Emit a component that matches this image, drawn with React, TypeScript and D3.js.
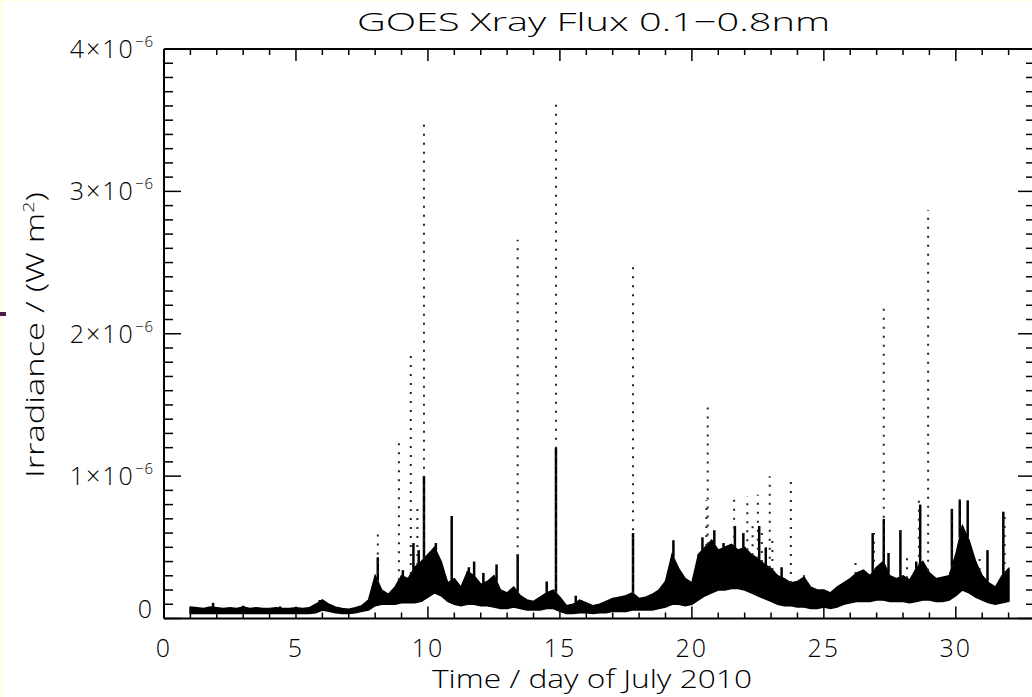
import React from "react";
import * as d3 from "d3";

// GOES 0.1–0.8 nm X-ray irradiance, July 2010.
// The dense 1-minute record is summarised as a low/high envelope sampled every 6 hours,
// plus the short peaks and flare rises that stand above it.
// Values are in units of 1e-7 W m^-2.
const bandStartDay = 1;
const bandStepDay = 0.25;
const bandLow = [
  0.35, 0.35, 0.35, 0.35, 0.35, 0.35, 0.35, 0.35, 0.35, 0.35,
  0.35, 0.35, 0.35, 0.35, 0.35, 0.35, 0.35, 0.35, 0.35, 0.4,
  0.6, 0.5, 0.4, 0.35, 0.35, 0.4, 0.5, 0.6, 0.9, 1.0,
  1.0, 1.0, 1.1, 1.1, 1.1, 1.2, 1.5, 1.8, 1.6, 1.2,
  1.0, 0.9, 1.0, 1.0, 0.9, 0.9, 0.8, 0.7, 0.7, 0.8,
  0.7, 0.6, 0.6, 0.6, 0.7, 0.7, 0.5, 0.35, 0.35, 0.4,
  0.4, 0.35, 0.4, 0.4, 0.5, 0.5, 0.5, 0.6, 0.6, 0.6,
  0.6, 0.7, 0.8, 1.0, 1.0, 0.9, 1.0, 1.3, 1.6, 1.8,
  2.0, 2.0, 2.1, 2.1, 2.0, 1.8, 1.6, 1.4, 1.2, 1.0,
  0.9, 0.9, 0.8, 0.8, 0.7, 0.7, 0.8, 0.7, 0.8, 1.0,
  1.1, 1.2, 1.2, 1.2, 1.3, 1.3, 1.2, 1.2, 1.2, 1.1,
  1.2, 1.3, 1.3, 1.2, 1.2, 1.3, 1.6, 2.0, 1.8, 1.5,
  1.3, 1.1, 1.0, 1.1, 1.2,
];
const bandHigh = [
  0.8, 0.75, 0.7, 0.8, 0.75, 0.7, 0.75, 0.7, 0.8, 0.7,
  0.75, 0.7, 0.7, 0.75, 0.7, 0.7, 0.75, 0.7, 0.75, 1.0,
  1.3, 1.0, 0.8, 0.7, 0.65, 0.75, 0.9, 1.3, 3.0, 2.0,
  1.7, 2.2, 3.0, 2.8, 3.6, 4.0, 4.5, 5.0, 4.0, 2.5,
  2.8, 2.2, 3.3, 3.0, 2.4, 2.6, 3.0, 2.0, 1.8, 2.2,
  1.6, 1.3, 1.2, 1.5, 1.8, 2.0, 1.5, 0.9, 1.0, 1.3,
  1.1, 0.9, 1.0, 1.2, 1.4, 1.5, 1.6, 1.8, 1.4, 1.5,
  1.7, 2.0, 2.6, 4.5, 3.5, 2.8, 2.5, 4.5, 5.0, 5.5,
  4.8, 5.0, 5.2, 4.8, 5.0, 4.5, 4.2, 3.8, 3.5, 3.0,
  2.8, 2.5, 2.6, 2.9, 2.2, 2.0, 2.0, 1.8, 2.2, 2.5,
  2.8, 3.2, 3.4, 3.0, 3.6, 4.0, 3.0, 2.8, 3.0, 2.7,
  3.5, 4.0, 3.2, 2.8, 2.9, 3.0, 4.5, 6.5, 5.5, 4.0,
  3.0, 2.5, 2.2, 3.0, 3.5,
];

// Short, continuously sampled peaks drawn as solid strokes.
const spikeDay = [
  1.86, 3.0, 4.4, 5.9, 8.1, 9.05, 9.45, 9.65, 9.85, 10.3,
  10.9, 11.55, 11.75, 12.1, 12.6, 13.4, 14.5, 14.85, 15.6, 17.77,
  19.3, 20.4, 20.85, 21.2, 21.63, 21.95, 22.55, 22.8, 23.4, 26.85,
  27.27, 27.45, 27.9, 28.5, 28.65, 29.85, 30.15, 30.45, 31.2, 31.8,
];
const spikeTop = [
  1.1, 0.9, 0.85, 1.3, 4.3, 3.4, 5.3, 4.8, 10.0, 5.3,
  7.2, 3.6, 4.0, 3.2, 3.8, 4.5, 2.6, 12.0, 1.6, 6.0,
  5.5, 5.7, 6.2, 5.3, 6.5, 6.0, 6.5, 5.0, 3.6, 6.0,
  7.0, 4.6, 6.2, 4.0, 8.0, 7.7, 8.3, 8.3, 4.8, 7.5,
];

// Impulsive flares: only a few samples fall on the rise, so they show as dotted columns.
const flareDay = [
  8.1, 8.9, 9.35, 9.6, 9.85, 13.4, 14.85, 17.77, 20.55, 20.6,
  21.6, 22.1, 22.3, 22.5, 22.65, 22.95, 23.05, 23.75, 24.25, 26.2,
  26.9, 27.27, 27.9, 28.15, 28.6, 28.95, 29.85, 30.15, 30.9, 31.85,
];
const flarePeak = [
  6.4, 12.5, 18.8, 8.0, 35.0, 26.6, 36.4, 25.0, 8.3, 15.0,
  8.7, 8.6, 6.8, 8.7, 6.0, 10.0, 5.5, 9.7, 3.2, 4.0,
  6.0, 22.2, 6.2, 4.3, 8.3, 28.7, 7.7, 8.8, 4.5, 7.4,
];

const xTickMajor = [0, 5, 10, 15, 20, 25, 30];
const yTickMajor = [0, 1, 2, 3, 4]; // in units of 1e-6 W m^-2

const W = 1032;
const H = 697;
const FONT = "'Open Sans', 'Liberation Sans', sans-serif";

export default function App() {
  const x = d3.scaleLinear().domain([0, 33]).range([164, 1035]);
  const y = d3.scaleLinear().domain([0, 4e-6]).range([618.5, 49]);
  const [x0, x1] = x.range();
  const [yb, yt] = y.range();

  const band = bandLow.map((lo, i) => ({
    day: bandStartDay + i * bandStepDay,
    lo: lo * 1e-7,
    hi: bandHigh[i] * 1e-7,
  }));
  const area = d3
    .area<{ day: number; lo: number; hi: number }>()
    .x((d) => x(d.day))
    .y0((d) => y(d.lo))
    .y1((d) => y(d.hi))
    .curve(d3.curveLinear);

  // envelope value at an arbitrary day, used as the foot of the peaks
  const hiAt = (day: number) => {
    const t = (day - bandStartDay) / bandStepDay;
    const i = Math.max(0, Math.min(band.length - 2, Math.floor(t)));
    const f = Math.max(0, Math.min(1, t - i));
    return band[i].hi * (1 - f) + band[i + 1].hi * f;
  };

  const xMinor = d3.range(0, 34, 1);
  const yMinor = d3.range(0, 4.01e-6, 1e-7);
  const majX = 12;
  const minX = 6;
  const majY = 17;
  const minY = 9;

  return (
    <svg
      width={W}
      height={H}
      style={{ position: "absolute", left: 0, top: 0, background: "#ffffff" }}
      fontFamily={FONT}
      fontWeight={300}
    >
      <rect x={0} y={0} width={W} height={H} fill="#ffffe6" />
      <rect x={3} y={1} width={W} height={H} fill="#ffffff" />
      <rect x={0} y={312} width={6} height={4} fill="#4a1a48" />

      {/* envelope of the minute data */}
      <path d={area(band) ?? ""} fill="#000" stroke="#000" strokeWidth={1.5} />
      {band.map((d, i) => (
        <line key={`b${i}`} x1={x(d.day)} x2={x(d.day)} y1={y(d.lo)} y2={y(d.hi)} stroke="#000" strokeWidth={2} />
      ))}

      {/* solid short peaks */}
      {spikeDay.map((d, i) => (
        <line
          key={`s${i}`}
          x1={x(d)}
          x2={x(d)}
          y1={y(hiAt(d))}
          y2={y(spikeTop[i] * 1e-7)}
          stroke="#000"
          strokeWidth={2.5}
        />
      ))}

      {/* flare rises */}
      {flareDay.map((d, i) => (
        <line
          key={`f${i}`}
          x1={x(d)}
          x2={x(d)}
          y1={y(hiAt(d))}
          y2={y(flarePeak[i] * 1e-7)}
          stroke="#222"
          strokeWidth={2}
          strokeDasharray="2 7"
        />
      ))}

      {/* box axes */}
      <g stroke="#000" strokeWidth={2} fill="none">
        <line x1={x0} x2={x1} y1={yb} y2={yb} />
        <line x1={x0} x2={x1} y1={yt} y2={yt} />
        <line x1={x0} x2={x0} y1={yb} y2={yt} />
        <line x1={x1} x2={x1} y1={yb} y2={yt} />
      </g>
      <g stroke="#000" strokeWidth={1.5}>
        {xMinor.map((d) => {
          const len = d % 5 === 0 ? majX : minX;
          return (
            <g key={`xt${d}`}>
              <line x1={x(d)} x2={x(d)} y1={yb} y2={yb - len} />
              <line x1={x(d)} x2={x(d)} y1={yt} y2={yt + len} />
            </g>
          );
        })}
        {yMinor.map((v, i) => {
          const len = i % 10 === 0 ? majY : minY;
          return (
            <g key={`yt${i}`}>
              <line x1={x0} x2={x0 + len} y1={y(v)} y2={y(v)} />
              <line x1={x1} x2={x1 - len} y1={y(v)} y2={y(v)} />
            </g>
          );
        })}
      </g>

      {/* tick labels */}
      <g fontSize={25} fill="#000" letterSpacing={2}>
        {xTickMajor.map((d) => (
          <text key={`xl${d}`} x={x(d)} y={657} textAnchor="middle">
            {d}
          </text>
        ))}
        {yTickMajor.map((v) =>
          v === 0 ? (
            <text key="yl0" x={154} y={618} textAnchor="end">
              0
            </text>
          ) : (
            <text key={`yl${v}`} x={154} y={y(v * 1e-6) + 9} textAnchor="end">
              {`${v}×10`}
              <tspan fontSize={15} dy={-11} letterSpacing={1}>
                −6
              </tspan>
            </text>
          )
        )}
      </g>

      {/* titles */}
      <text x={357} y={31} fontSize={26} textLength={473} lengthAdjust="spacingAndGlyphs">
        GOES Xray Flux 0.1−0.8nm
      </text>
      <text x={432} y={688} fontSize={25} textLength={320} lengthAdjust="spacingAndGlyphs">
        Time / day of July 2010
      </text>
      <text transform="translate(44,478) rotate(-90)" fontSize={26} textLength={286} lengthAdjust="spacingAndGlyphs">
        Irradiance / (W m<tspan fontSize={15} dy={-10}>2</tspan>
        <tspan dy={10}>)</tspan>
      </text>
    </svg>
  );
}
